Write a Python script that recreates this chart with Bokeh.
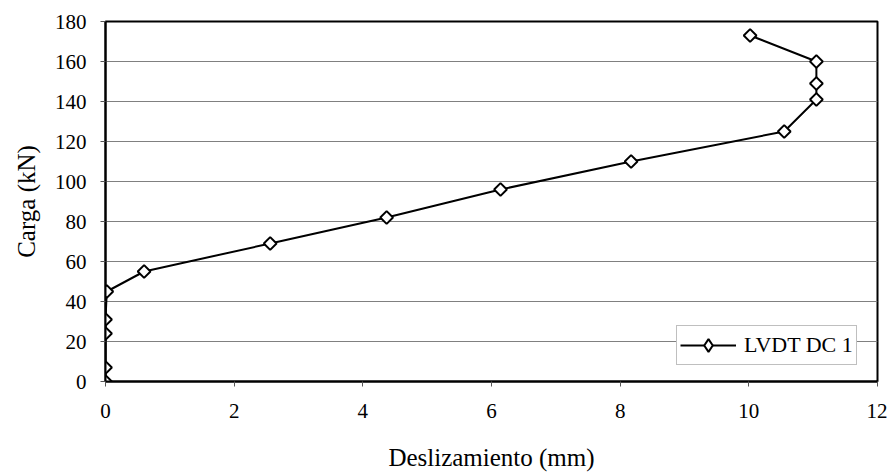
from bokeh.plotting import figure
from bokeh.models import Range1d, FixedTicker, Legend, LegendItem
from bokeh.embed import file_html
from bokeh.resources import INLINE
import math

# Data
deslizamiento = [0.0, 0.0, 0.0, 0.0, 0.02, 0.60, 2.56, 4.37, 6.14, 8.17, 10.55, 11.05, 11.05, 11.05, 10.02]
carga = [0.0, 7.0, 24.0, 31.0, 45.0, 55.0, 69.0, 82.0, 96.0, 110.0, 125.0, 141.0, 149.0, 160.0, 173.0]
x_ticks = [0, 2, 4, 6, 8, 10, 12]
y_ticks = [0, 20, 40, 60, 80, 100, 120, 140, 160, 180]
series_name = "LVDT DC 1"

FONT = "Times New Roman"

p = figure(width=887, height=475, output_backend="svg", toolbar_location=None,
           x_range=Range1d(0, 12), y_range=Range1d(0, 180))
p.min_border_left = 105
p.min_border_right = 10
p.min_border_top = 21
p.min_border_bottom = 94
p.background_fill_color = "white"
p.border_fill_color = "white"
p.outline_line_color = "black"
p.outline_line_width = 2

p.xaxis.ticker = FixedTicker(ticks=x_ticks)
p.yaxis.ticker = FixedTicker(ticks=y_ticks)
for ax in (p.xaxis[0], p.yaxis[0]):
    ax.axis_line_color = "black"
    ax.axis_line_width = 2
    ax.major_tick_line_color = "#555555"
    ax.major_tick_line_width = 1
    ax.major_tick_in = 0
    ax.major_tick_out = 5
    ax.minor_tick_line_color = None
    ax.major_label_text_font = FONT
    ax.major_label_text_font_size = "21px"
    ax.major_label_text_color = "black"
    ax.axis_label_text_font = FONT
    ax.axis_label_text_font_size = "25px"
    ax.axis_label_text_font_style = "normal"
    ax.axis_label_text_color = "black"

p.xaxis.axis_label = "Deslizamiento (mm)"
p.yaxis.axis_label = "Carga (kN)"
p.xaxis.major_label_standoff = 17
p.xaxis.axis_label_standoff = 23
p.yaxis.major_label_standoff = 14
p.yaxis.axis_label_standoff = 12

p.xgrid.grid_line_color = None
p.ygrid.grid_line_color = "#808080"
p.ygrid.grid_line_width = 1

line = p.line(deslizamiento, carga, line_color="black", line_width=2)
pts = p.scatter(deslizamiento, carga, marker="square", size=9, angle=math.pi / 4,
                fill_color="white", line_color="black", line_width=2)
# off-range renderer used only to draw a diamond in the legend
legend_marker = p.scatter(x=[-100], y=[-100], marker="diamond", size=14,
                          fill_color="white", line_color="black", line_width=2)

legend = Legend(items=[LegendItem(label=series_name, renderers=[line, legend_marker])],
                location=(571, 16))
legend.label_text_font = FONT
legend.label_text_font_size = "22px"
legend.label_text_color = "black"
legend.border_line_color = "#808080"
legend.border_line_width = 1
legend.background_fill_color = "white"
legend.background_fill_alpha = 1
legend.glyph_width = 56
legend.glyph_height = 32
legend.padding = 3
legend.margin = 0
legend.spacing = 0
legend.label_standoff = 8
legend.label_height = 32
p.add_layout(legend, "center")

open("out.html", "w").write(file_html(p, INLINE))
